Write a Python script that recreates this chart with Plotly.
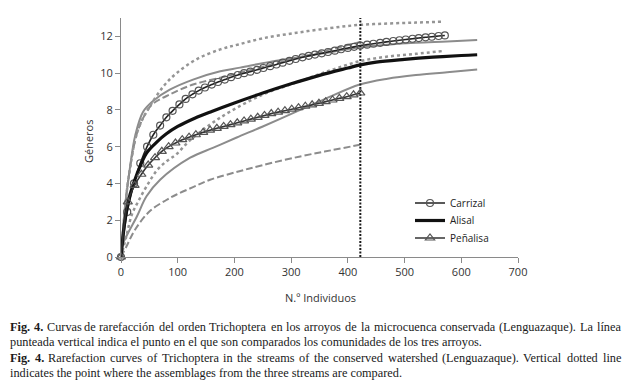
import plotly.graph_objects as go

# ---------------- data ----------------
carrizal_x = [0, 11, 23, 34, 46, 57, 69, 80, 91, 103, 114, 126, 137, 148, 160, 171, 183, 194, 206, 217,
              228, 240, 251, 263, 274, 285, 297, 308, 320, 331, 342, 354, 365, 377, 388, 400, 411, 422,
              434, 445, 457, 468, 480, 491, 502, 514, 525, 537, 548, 560, 571]
carrizal_y = [0, 2.45, 4.0, 5.1, 6.0, 6.65, 7.15, 7.6, 7.95, 8.3, 8.6, 8.85, 9.05, 9.22, 9.38, 9.52, 9.65,
              9.78, 9.9, 10.0, 10.08, 10.18, 10.28, 10.38, 10.47, 10.57, 10.67, 10.77, 10.86, 10.94, 11.01,
              11.08, 11.15, 11.22, 11.3, 11.37, 11.43, 11.5, 11.55, 11.6, 11.65, 11.7, 11.75, 11.79, 11.83,
              11.87, 11.91, 11.95, 11.98, 12.02, 12.05]
carrizal_up_x = [0, 10, 18, 25, 35, 51, 75, 98, 133, 175, 207, 251, 310, 369, 418, 470, 520, 566]
carrizal_up_y = [0, 3.5, 5.2, 6.4, 7.3, 8.2, 9.29, 10.0, 10.75, 11.29, 11.56, 11.9, 12.2, 12.45, 12.62, 12.7, 12.75, 12.8]
carrizal_lo_x = [0, 10, 19, 30, 45, 63, 80, 98, 120, 157, 192, 251, 310, 369, 421, 470, 520, 566]
carrizal_lo_y = [0, 1.2, 2.3, 3.0, 3.84, 4.7, 5.2, 5.6, 6.3, 7.2, 7.9, 8.85, 9.5, 10.15, 10.65, 10.9, 11.05, 11.2]

alisal_x = [0, 7, 16, 28, 45, 63, 80, 100, 130, 160, 200, 250, 300, 350, 400, 422, 450, 500, 550, 600, 628]
alisal_y = [0, 2.0, 3.4, 4.5, 5.65, 6.25, 6.7, 7.1, 7.55, 7.92, 8.38, 8.92, 9.42, 9.88, 10.28, 10.45, 10.6, 10.75, 10.87, 10.96, 11.0]
alisal_up_x = [0, 7, 16, 25, 39, 57, 86, 127, 175, 210, 260, 310, 360, 418, 470, 520, 575, 628]
alisal_up_y = [0, 2.7, 4.9, 6.6, 7.9, 8.5, 9.1, 9.65, 10.1, 10.3, 10.6, 10.85, 11.1, 11.4, 11.55, 11.65, 11.72, 11.8]
alisal_lo_x = [0, 4, 28, 45, 69, 122, 163, 204, 250, 316, 360, 421, 470, 520, 575, 628]
alisal_lo_y = [0, 0.75, 2.2, 3.3, 4.2, 5.4, 5.95, 6.5, 7.1, 8.0, 8.6, 9.38, 9.7, 9.9, 10.05, 10.2]

penalisa_x = [0, 12, 24, 36, 48, 60, 72, 84, 96, 108, 120, 132, 145, 157, 169, 181, 193, 205, 217, 229,
              241, 253, 265, 277, 289, 301, 313, 325, 337, 349, 361, 373, 385, 398, 410, 422]
penalisa_y = [0, 3.0, 3.9, 4.5, 5.0, 5.4, 5.75, 6.0, 6.2, 6.38, 6.52, 6.65, 6.78, 6.9, 7.0, 7.1, 7.2, 7.3,
              7.4, 7.5, 7.6, 7.7, 7.8, 7.88, 7.96, 8.04, 8.12, 8.2, 8.28, 8.36, 8.45, 8.54, 8.63, 8.72, 8.82, 8.92]
penalisa_up_x = [0, 10, 20, 30, 45, 57, 86, 127, 175, 220, 270, 320, 370, 422]
penalisa_up_y = [0, 3.5, 5.6, 6.9, 7.9, 8.35, 8.84, 9.38, 9.75, 10.1, 10.5, 10.9, 11.3, 11.7]
penalisa_lo_x = [0, 10, 25, 51, 80, 98, 127, 157, 207, 250, 316, 370, 421]
penalisa_lo_y = [0, 0.6, 1.5, 2.5, 3.1, 3.4, 3.8, 4.2, 4.65, 5.0, 5.47, 5.8, 6.1]

compare_n = 422
x_ticks = [0, 100, 200, 300, 400, 500, 600, 700]
y_ticks = [0, 2, 4, 6, 8, 10, 12]

caption_lines = [
    ("Fig. 4.", "Curvas de rarefacción del orden Trichoptera en los arroyos de la microcuenca conservada (Lenguazaque). La línea", True),
    ("", "punteada vertical indica el punto en el que son comparados los comunidades de los tres arroyos.", False),
    ("Fig. 4.", "Rarefaction curves of Trichoptera in the streams of the conserved watershed (Lenguazaque). Vertical dotted line", True),
    ("", "indicates the point where the assemblages from the three streams are compared.", False),
]

# ---------------- figure ----------------
GRAY = "#8c8c8c"
fig = go.Figure()

def add_line(x, y, dash, color=GRAY, width=2.0):
    fig.add_trace(go.Scatter(x=x, y=y, mode="lines", showlegend=False, hoverinfo="skip",
                             line=dict(color=color, width=width, dash=dash, shape="spline"),
                             cliponaxis=False))

add_line(alisal_up_x, alisal_up_y, "solid")
add_line(alisal_lo_x, alisal_lo_y, "solid")
add_line(penalisa_up_x, penalisa_up_y, "7px,3px")
add_line(penalisa_lo_x, penalisa_lo_y, "7px,3px")
add_line(carrizal_up_x, carrizal_up_y, "3px,3px", color="#959595", width=2.5)
add_line(carrizal_lo_x, carrizal_lo_y, "3px,3px", color="#959595", width=2.5)

fig.add_trace(go.Scatter(x=[compare_n, compare_n], y=[0, 13], mode="lines", showlegend=False,
                         hoverinfo="skip", line=dict(color="#1a1a1a", width=2, dash="2px,1.5px")))

fig.add_trace(go.Scatter(x=carrizal_x, y=carrizal_y, mode="lines+markers", name="Carrizal", legend="legend",
                         line=dict(color="#222222", width=1.6, shape="spline"),
                         marker=dict(symbol="circle-open", size=7, color="#555555", line=dict(width=1.2)),
                         cliponaxis=False))
fig.add_trace(go.Scatter(x=alisal_x, y=alisal_y, mode="lines", name="Alisal", legend="legend2",
                         line=dict(color="#111111", width=3.2, shape="spline"), cliponaxis=False))
fig.add_trace(go.Scatter(x=penalisa_x, y=penalisa_y, mode="lines+markers", name="Peñalisa", legend="legend3",
                         line=dict(color="#333333", width=1.6, shape="spline"),
                         marker=dict(symbol="triangle-up-open", size=8, color="#555555", line=dict(width=1.2)),
                         cliponaxis=False))

W, H = 627, 390
L, R, T, B = 121, 518, 18, 257
pw, ph = R - L, B - T

def px(x):
    return (x - L) / pw

def py(y):
    return (B - y) / ph

axis_common = dict(showgrid=False, zeroline=False, showline=True, linecolor="#8a8a8a", linewidth=1,
                   ticks="outside", ticklen=5, tickcolor="#8a8a8a",
                   tickfont=dict(family="Open Sans", size=11, color="#333333"))
fig.update_xaxes(range=[0, 700], tickvals=x_ticks, **axis_common)
fig.update_yaxes(range=[0, 13], tickvals=y_ticks, **axis_common)

annotations = [
    dict(text="N.º Individuos", x=px(320), y=py(297), xref="paper", yref="paper", showarrow=False,
         font=dict(family="Open Sans", size=11, color="#333333"), xanchor="center", yanchor="middle"),
    dict(text="Géneros", x=px(88), y=py(142), xref="paper", yref="paper", showarrow=False, textangle=-90,
         font=dict(family="Open Sans", size=11, color="#333333"), xanchor="center", yanchor="middle"),
]

# Times metrics (per 1000 em) used to justify caption lines
TIMES = {' ': 250, '(': 333, ')': 333, ',': 250, '-': 333, '.': 250, '0': 500, '4': 500,
         'A': 722, 'F': 556, 'L': 611, 'R': 667, 'T': 611, 'V': 722,
         'a': 444, 'b': 500, 'c': 444, 'd': 500, 'e': 444, 'f': 333, 'g': 500, 'h': 500, 'i': 278,
         'j': 278, 'k': 500, 'l': 278, 'm': 778, 'n': 500, 'o': 500, 'p': 500, 'q': 500, 'r': 333,
         's': 389, 't': 278, 'u': 500, 'v': 500, 'w': 722, 'x': 500, 'y': 500, 'z': 444,
         'á': 444, 'é': 444, 'í': 278, 'ó': 500, 'ú': 500, 'ñ': 500}
TIMES_BOLD = {'F': 611, 'i': 278, 'g': 500, '.': 250, '4': 500, ' ': 250}
FS = 12.3
CAP_FONT = dict(family="Liberation Serif", size=FS, color="#1a1a1a")

def wwidth(word, bold=False):
    tbl = TIMES_BOLD if bold else TIMES
    return sum(tbl.get(c, 500) for c in word) * FS / 1000.0

x_left, x_right = 10, 621
for i, (head, body, justify) in enumerate(caption_lines):
    yy = py(327 + i * 15.3)
    words = ([(w, True) for w in head.split()] if head else []) + [(w, False) for w in body.split()]
    if justify:
        total = sum(wwidth(w, b) for w, b in words)
        gap = (x_right - x_left - total) / (len(words) - 1)
        xpos = x_left
        for w, b in words:
            annotations.append(dict(text=f"<b>{w}</b>" if b else w, x=px(xpos - 1), y=yy, xref="paper",
                                    yref="paper", showarrow=False, xanchor="left", yanchor="middle",
                                    font=CAP_FONT, borderpad=0))
            xpos += wwidth(w, b) + gap
    else:
        txt = (f"<b>{head}</b> " if head else "") + body
        annotations.append(dict(text=txt, x=px(x_left - 1), y=yy, xref="paper", yref="paper",
                                showarrow=False, xanchor="left", yanchor="middle", align="left",
                                font=CAP_FONT, borderpad=0))

leg_common = dict(xanchor="left", yanchor="middle", bgcolor="rgba(0,0,0,0)",
                  font=dict(family="Open Sans", size=10, color="#222222"), itemwidth=30)

fig.update_layout(
    width=W, height=H,
    margin=dict(l=L, r=W - R, t=T, b=H - B, pad=0),
    paper_bgcolor="white", plot_bgcolor="white",
    showlegend=True,
    legend=dict(x=px(410), y=py(203), **leg_common),
    legend2=dict(x=px(410), y=py(220.5), **leg_common),
    legend3=dict(x=px(410), y=py(238), **leg_common),
    annotations=annotations,
)

fig.write_html("out.html", config={"displayModeBar": False},
               post_script="document.body.style.margin='0';document.body.style.overflow='hidden';")
